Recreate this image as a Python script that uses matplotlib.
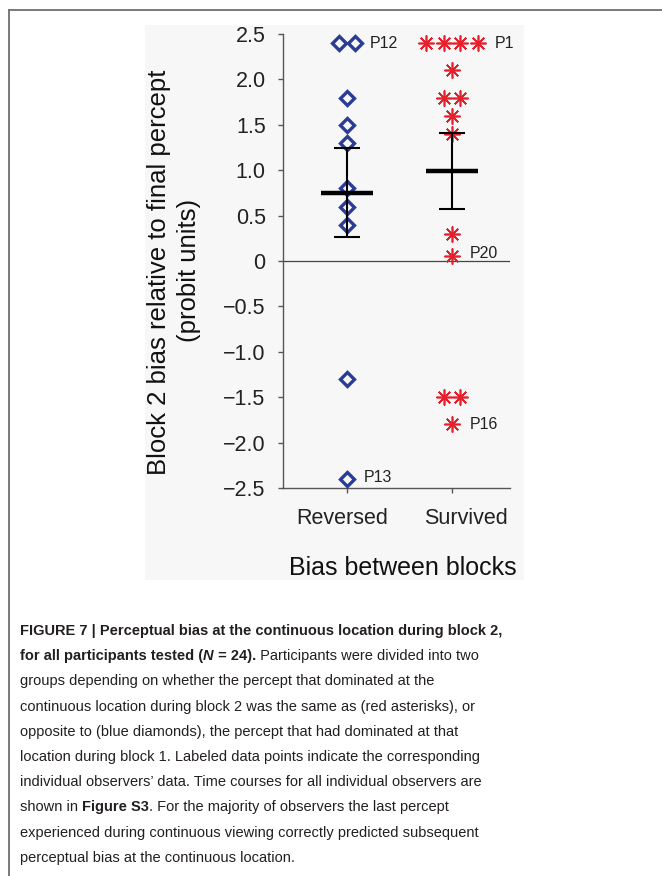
import matplotlib
matplotlib.use("Agg")
import matplotlib.pyplot as plt
from matplotlib.lines import Line2D
from matplotlib.patches import Rectangle
import matplotlib.transforms as mtransforms

W, H = 662, 876

plt.rcParams["font.family"] = ["Liberation Sans", "DejaVu Sans"]

# data
groups = ["Reversed", "Survived"]
group_x = [1, 2]
reversed_y = [2.4, 2.4, 1.8, 1.5, 1.3, 0.8, 0.6, 0.4, -1.3, -2.4]
reversed_dx = [-0.08, 0.08, 0, 0, 0, 0, 0, 0, 0, 0]
survived_y = [2.4, 2.4, 2.4, 2.4, 2.1, 1.8, 1.8, 1.6, 1.4, 0.3, 0.05, -1.5, -1.5, -1.8]
survived_dx = [-0.25, -0.08, 0.08, 0.25, 0, -0.08, 0.08, 0, 0, 0, 0, -0.08, 0.08, 0]
group_mean = [0.75, 0.99]
group_sem = [0.49, 0.42]
label_names = ["P12", "P1", "P20", "P16", "P13"]
label_x = [1.22, 2.41, 2.17, 2.17, 1.16]
label_y = [2.4, 2.4, 0.08, -1.8, -2.38]
yticks = [2.5, 2.0, 1.5, 1.0, 0.5, 0, -0.5, -1.0, -1.5, -2.0, -2.5]
ytick_labels = ["2.5", "2.0", "1.5", "1.0", "0.5", "0",
                "\u22120.5", "\u22121.0", "\u22121.5", "\u22122.0", "\u22122.5"]

blue = "#2b3c95"
red = "#e3202b"
axis_grey = "#555555"

fig = plt.figure(figsize=(W / 100, H / 100), dpi=100)
fig.patch.set_facecolor("white")

# light grey panel behind the chart, and the page frame
fig.add_artist(Rectangle((145 / W, 1 - 580 / H), (524 - 145) / W, (580 - 25) / H,
                         transform=fig.transFigure, facecolor="#f7f7f7",
                         edgecolor="none", zorder=-5))
fig.add_artist(Line2D([8.5 / W, 1], [1 - 9.5 / H, 1 - 9.5 / H],
                      transform=fig.transFigure, color="#707070", lw=1.3))
fig.add_artist(Line2D([8.5 / W, 8.5 / W], [0, 1 - 9.5 / H],
                      transform=fig.transFigure, color="#707070", lw=1.3))

ax = fig.add_axes([283 / W, 1 - 488 / H, (510 - 283) / W, (488 - 34) / H])
ax.patch.set_visible(False)
ax.set_xlim(0.39, 2.552)
ax.set_ylim(-2.5, 2.5)

for s in ["top", "right"]:
    ax.spines[s].set_visible(False)
for s in ["left", "bottom"]:
    ax.spines[s].set_color(axis_grey)
    ax.spines[s].set_linewidth(1.0)

ax.axhline(0, color="#444444", lw=0.9, zorder=1)

rx = [group_x[0] + d for d in reversed_dx]
sx = [group_x[1] + d for d in survived_dx]
ax.plot(rx, reversed_y, linestyle="none", marker="D", markersize=7.2,
        markerfacecolor="none", markeredgecolor=blue, markeredgewidth=2.4, zorder=3)
ax.plot(sx, survived_y, linestyle="none", marker=(8, 2, 0), markersize=11.5,
        markeredgecolor=red, markeredgewidth=1.2, zorder=3)

ax.errorbar(group_x, group_mean, yerr=group_sem, fmt="none", ecolor="black",
            elinewidth=1.5, capsize=9.5, capthick=1.5, zorder=4)
ax.hlines(group_mean, [x - 0.25 for x in group_x], [x + 0.25 for x in group_x],
          colors="black", lw=3.2, zorder=5)

for name, lx, ly in zip(label_names, label_x, label_y):
    ax.text(lx, ly, name, fontsize=11.5, color="#222222", ha="left", va="center")

ax.set_yticks(yticks)
ax.set_yticklabels(ytick_labels)
ax.set_xticks(group_x)
ax.set_xticklabels([])
ax.tick_params(axis="y", direction="out", length=3.5, width=1, color=axis_grey,
               pad=9, labelsize=15.5, labelcolor="#222222")
ax.tick_params(axis="x", direction="out", length=3.5, width=1, color=axis_grey)

blend = mtransforms.blended_transform_factory(ax.transData, fig.transFigure)
for gx, name, off in zip(group_x, groups, [-0.05, 0.13]):
    ax.text(gx + off, 1 - 518 / H, name, transform=blend, fontsize=15.5,
            color="#222222", ha="center", va="center")

fig.text(403 / W, 1 - 568 / H, "Bias between blocks", fontsize=18,
         color="#111111", ha="center", va="center")
fig.text(159 / W, 1 - 272 / H, "Block 2 bias relative to final percept",
         fontsize=18.5, rotation=90, color="#111111", ha="center", va="center")
fig.text(189 / W, 1 - 270 / H, "(probit units)",
         fontsize=18.5, rotation=90, color="#111111", ha="center", va="center")

# caption, drawn run by run so bold / regular pieces follow each other
cap_family = ["Liberation Sans Narrow", "Liberation Sans", "DejaVu Sans"]
cap_color = "#231f20"
cap_size = 10.5
caption = [
    [("FIGURE 7 | Perceptual bias at the continuous location during block 2,", "bold", "normal")],
    [("for all participants tested (", "bold", "normal"), ("N", "bold", "italic"),
     (" = 24).", "bold", "normal"), (" Participants were divided into two", "normal", "normal")],
    [("groups depending on whether the percept that dominated at the", "normal", "normal")],
    [("continuous location during block 2 was the same as (red asterisks), or", "normal", "normal")],
    [("opposite to (blue diamonds), the percept that had dominated at that", "normal", "normal")],
    [("location during block 1. Labeled data points indicate the corresponding", "normal", "normal")],
    [("individual observers\u2019 data. Time courses for all individual observers are", "normal", "normal")],
    [("shown in ", "normal", "normal"), ("Figure S3", "bold", "normal"),
     (". For the majority of observers the last percept", "normal", "normal")],
    [("experienced during continuous viewing correctly predicted subsequent", "normal", "normal")],
    [("perceptual bias at the continuous location.", "normal", "normal")],
]

renderer = fig.canvas.get_renderer()
base_y = 635
line_gap = 25.2
for i, runs in enumerate(caption):
    x = 20
    y = base_y + i * line_gap
    for txt, weight, style in runs:
        t = fig.text(x / W, 1 - y / H, txt, fontsize=cap_size, fontweight=weight,
                     fontstyle=style, family=cap_family, color=cap_color,
                     ha="left", va="baseline")
        x += t.get_window_extent(renderer).width

fig.savefig("out.png", dpi=100)
